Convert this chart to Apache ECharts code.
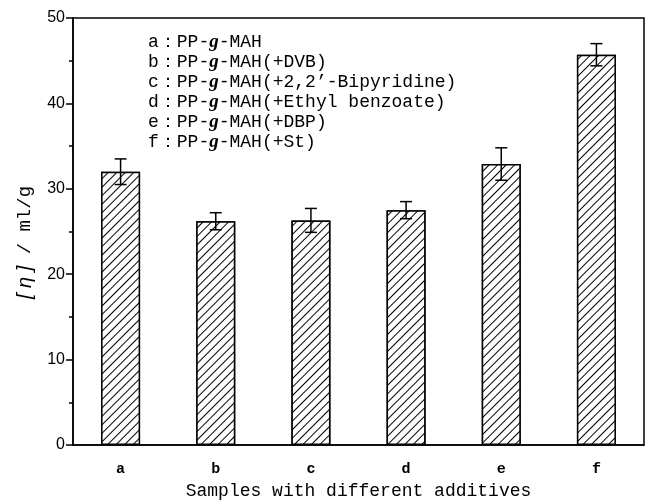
<!DOCTYPE html>
<html>
<head>
<meta charset="utf-8">
<script src="https://cdn.jsdelivr.net/npm/echarts@6/dist/echarts.min.js"></script>
<style>
html, body { margin: 0; padding: 0; background: #fff; }
#mainchart { width: 646px; height: 501px; }
</style>
</head>
<body>
<div id="mainchart"></div>
<script>
var samples = ['a', 'b', 'c', 'd', 'e', 'f'];
var viscosity = [32.0, 26.2, 26.3, 27.5, 32.9, 45.7];
var errPlus = [1.5, 1.0, 1.4, 1.0, 1.9, 1.3];
var legendNames = ['PP-{g|g}-MAH', 'PP-{g|g}-MAH(+DVB)', 'PP-{g|g}-MAH(+2,2\u2019-Bipyridine)',
	'PP-{g|g}-MAH(+Ethyl benzoate)', 'PP-{g|g}-MAH(+DBP)', 'PP-{g|g}-MAH(+St)'];

var monoFont = 'Liberation Mono';

var errData = [];
for (var i = 0; i < samples.length; i++) {
	errData.push([i, viscosity[i] - errPlus[i], viscosity[i] + errPlus[i]]);
}

var legendTexts = [];
for (var i = 0; i < legendNames.length; i++) {
	legendTexts.push({
		type: 'text',
		left: 148,
		top: 33 + i * 20,
		style: {
			text: samples[i] + '\uff1a' + legendNames[i],
			font: '18px ' + monoFont,
			fill: '#000',
			rich: {
				g: { fontFamily: 'Liberation Serif', fontStyle: 'italic', fontWeight: 'bold', fontSize: 19 }
			}
		}
	});
}

var chart = echarts.init(document.getElementById('mainchart'));
var option = {
	animation: false,
	backgroundColor: '#fff',
	grid: {
		left: 73, right: 2, top: 18, bottom: 56,
		outerBoundsMode: 'none',
		containLabel: false,
		show: true, borderColor: '#000', borderWidth: 1.5
	},
	graphic: legendTexts,
	xAxis: [{
		type: 'category',
		data: samples,
		name: 'Samples with different additives',
		nameLocation: 'middle',
		nameGap: 37,
		nameTextStyle: { fontFamily: monoFont, fontSize: 18, color: '#000' },
		axisLine: { lineStyle: { color: '#000', width: 1.5 } },
		axisTick: { alignWithLabel: true, length: 7, lineStyle: { color: '#000', width: 1.5 } },
		axisLabel: { fontFamily: monoFont, fontWeight: 'bold', fontSize: 15, color: '#000', margin: 17 },
		splitLine: { show: false }
	}, {
		type: 'category',
		data: samples,
		position: 'bottom',
		axisLine: { show: false },
		axisTick: { length: 3, lineStyle: { color: '#000', width: 1.5 } },
		axisLabel: { show: false },
		splitLine: { show: false }
	}],
	yAxis: {
		type: 'value',
		min: 0, max: 50, interval: 10,
		name: '{i|[ \u03b7 ]} / ml/g',
		nameLocation: 'middle',
		nameGap: 38,
		nameTextStyle: {
			fontFamily: monoFont, fontSize: 19, color: '#000',
			padding: [0, 22, 0, 0],
			rich: { i: { fontFamily: 'Liberation Sans', fontStyle: 'italic', fontSize: 20 } }
		},
		axisLine: { show: true, lineStyle: { color: '#000', width: 1.5 } },
		axisTick: { show: true, length: 7, lineStyle: { color: '#000', width: 1.5 } },
		minorTick: { show: true, splitNumber: 2, length: 4, lineStyle: { color: '#000', width: 1.5 } },
		axisLabel: { fontFamily: 'Liberation Sans', fontSize: 16, color: '#000', margin: 8 },
		splitLine: { show: false }
	},
	series: [{
		type: 'bar',
		data: viscosity,
		barWidth: '41%',
		itemStyle: {
			color: '#fff',
			borderColor: '#000',
			borderWidth: 1.5,
			decal: {
				color: '#000',
				backgroundColor: '#fff',
				symbol: 'rect',
				symbolSize: 1,
				dashArrayX: [1, 0],
				dashArrayY: [1, 5],
				rotation: -Math.PI / 4
			}
		}
	}, {
		type: 'custom',
		data: errData,
		z: 10,
		renderItem: function (params, api) {
			var x = api.value(0);
			var lo = api.coord([x, api.value(1)]);
			var hi = api.coord([x, api.value(2)]);
			var cap = 6;
			var st = { stroke: '#000', lineWidth: 1.5 };
			return {
				type: 'group',
				children: [
					{ type: 'line', shape: { x1: lo[0], y1: lo[1], x2: hi[0], y2: hi[1] }, style: st },
					{ type: 'line', shape: { x1: lo[0] - cap, y1: lo[1], x2: lo[0] + cap, y2: lo[1] }, style: st },
					{ type: 'line', shape: { x1: hi[0] - cap, y1: hi[1], x2: hi[0] + cap, y2: hi[1] }, style: st }
				]
			};
		}
	}]
};
chart.setOption(option);
</script>
</body>
</html>
